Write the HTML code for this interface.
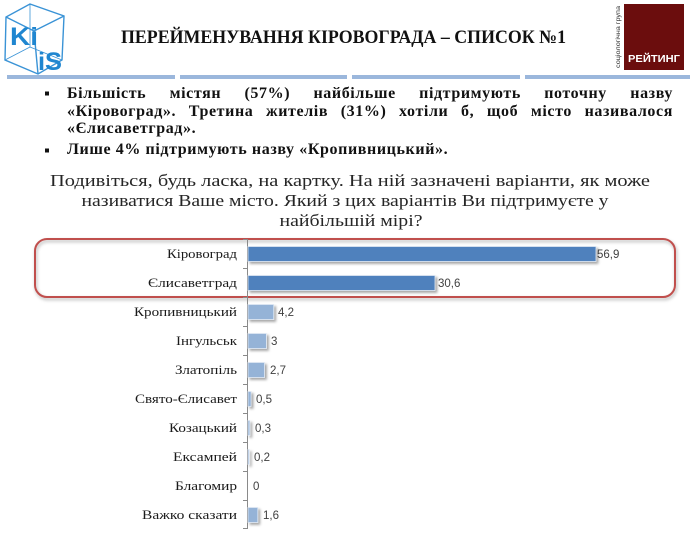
<!DOCTYPE html>
<html><head><meta charset="utf-8">
<style>
html,body{margin:0;padding:0;background:#fff;}
body{position:relative;width:690px;height:533px;overflow:hidden;}
svg{display:block;position:absolute;left:0;top:0;}
.cat{font-family:"Liberation Serif","DejaVu Serif",serif;font-size:13px;fill:#1a1a1a;}
.val{font-family:"Liberation Sans","DejaVu Sans",sans-serif;font-size:11.5px;fill:#404040;}
.q{font-family:"Liberation Serif","DejaVu Serif",serif;font-size:17px;fill:#262626;}
.bl{position:absolute;left:67px;width:606px;height:18px;line-height:18px;font-family:"Liberation Serif","DejaVu Serif",serif;font-size:16px;letter-spacing:0.6px;font-weight:bold;color:#111;white-space:nowrap;}
.j{text-align:justify;text-align-last:justify;white-space:normal;}
</style></head>
<body>
<svg width="690" height="533" viewBox="0 0 690 533" xmlns="http://www.w3.org/2000/svg">
<defs>
<filter id="sh" x="-20%" y="-40%" width="140%" height="180%">
<feDropShadow dx="2" dy="2" stdDeviation="1.2" flood-color="#000" flood-opacity="0.35"/>
</filter>
<filter id="sh2" x="-5%" y="-20%" width="110%" height="140%">
<feDropShadow dx="1" dy="2" stdDeviation="1.5" flood-color="#000" flood-opacity="0.3"/>
</filter>
</defs>
<rect width="690" height="533" fill="#fff"/>

<!-- KIIS logo -->
<g fill="none" stroke="#3a93d6" stroke-width="1.4">
<polygon points="30,4 64,16 62,60 38,74 5,60 6,17"/>
<line x1="34" y1="31" x2="6" y2="17"/>
<line x1="34" y1="31" x2="64" y2="16"/>
<line x1="34" y1="31" x2="38" y2="74"/>
<line x1="30" y1="4" x2="30" y2="47" stroke-width="0.8"/>
<line x1="30" y1="47" x2="5" y2="60" stroke-width="0.8"/>
<line x1="30" y1="47" x2="62" y2="60" stroke-width="0.8"/>
</g>
<text x="10" y="45" font-family="Liberation Sans,sans-serif" font-weight="bold" font-size="25" fill="#1f86d0" textLength="28" lengthAdjust="spacingAndGlyphs">Ki</text>
<text x="38" y="70" font-family="Liberation Sans,sans-serif" font-weight="bold" font-size="25" fill="#1f86d0" textLength="24" lengthAdjust="spacingAndGlyphs">iS</text>

<!-- Rating logo -->
<rect x="624" y="4" width="60" height="66" fill="#6b0d0d"/>
<text x="654" y="62" text-anchor="middle" font-family="Liberation Sans,sans-serif" font-weight="bold" font-size="10.5" fill="#fff" textLength="52" lengthAdjust="spacingAndGlyphs">РЕЙТИНГ</text>
<text transform="translate(620,68) rotate(-90)" font-family="Liberation Sans,sans-serif" font-size="6" fill="#333" textLength="62" lengthAdjust="spacingAndGlyphs">соціологічна група</text>

<!-- Title -->
<text x="121" y="43" font-family="Liberation Serif,serif" font-weight="bold" font-size="19" fill="#111" textLength="445" lengthAdjust="spacingAndGlyphs">ПЕРЕЙМЕНУВАННЯ КІРОВОГРАДА – СПИСОК №1</text>

<!-- separator -->
<g fill="#9bb7dc">
<rect x="7" y="75" width="168" height="4"/>
<rect x="180" y="75" width="167" height="4"/>
<rect x="352" y="75" width="168" height="4"/>
<rect x="525" y="75" width="165" height="4"/>
</g>

<!-- bullets -->
<rect x="45" y="91.5" width="4" height="4" fill="#111"/>
<rect x="45" y="148.5" width="4" height="4" fill="#111"/>

<!-- question -->
<g class="q" text-anchor="middle">
<text x="350" y="186" textLength="600" lengthAdjust="spacingAndGlyphs">Подивіться, будь ласка, на картку. На ній зазначені варіанти, як може</text>
<text x="345" y="206" textLength="527" lengthAdjust="spacingAndGlyphs">називатися Ваше місто. Який з цих варіантів Ви підтримуєте у</text>
<text x="351" y="226" textLength="143" lengthAdjust="spacingAndGlyphs">найбільшій мірі?</text>
</g>

<!-- highlight rect -->
<rect x="35" y="239" width="640" height="58" rx="12" ry="12" fill="none" stroke="#c0504d" stroke-width="2" filter="url(#sh2)"/>

<!-- axis -->
<g stroke="#8a8a8a" stroke-width="1">
<line x1="247.5" y1="239" x2="247.5" y2="529"/>
<line x1="243" y1="239.5" x2="247.5" y2="239.5"/>
<line x1="243" y1="268.5" x2="247.5" y2="268.5"/>
<line x1="243" y1="297.5" x2="247.5" y2="297.5"/>
<line x1="243" y1="326.5" x2="247.5" y2="326.5"/>
<line x1="243" y1="355.5" x2="247.5" y2="355.5"/>
<line x1="243" y1="384.5" x2="247.5" y2="384.5"/>
<line x1="243" y1="413.5" x2="247.5" y2="413.5"/>
<line x1="243" y1="442.5" x2="247.5" y2="442.5"/>
<line x1="243" y1="471.5" x2="247.5" y2="471.5"/>
<line x1="243" y1="500.5" x2="247.5" y2="500.5"/>
<line x1="243" y1="528.5" x2="247.5" y2="528.5"/>
</g>

<!-- bars -->
<g filter="url(#sh)" stroke="#dfe8f3" stroke-width="0.8">
<rect x="248" y="246.5" width="348" height="15" fill="#4f81bd"/>
<rect x="248" y="275.5" width="187" height="15" fill="#4f81bd"/>
<rect x="248" y="304.5" width="25.7" height="15" fill="#95b3d7"/>
<rect x="248" y="333.5" width="18.4" height="15" fill="#95b3d7"/>
<rect x="248" y="362.5" width="16.5" height="15" fill="#95b3d7"/>
<rect x="248" y="391.5" width="3.1" height="15" fill="#95b3d7"/>
<rect x="248" y="420.5" width="1.8" height="15" fill="#95b3d7"/>
<rect x="248" y="449.5" width="1.2" height="15" fill="#95b3d7"/>
<rect x="248" y="507.5" width="9.8" height="15" fill="#95b3d7"/>
</g>

<!-- category labels -->
<g class="cat" text-anchor="end">
<text x="237" y="258" textLength="70" lengthAdjust="spacingAndGlyphs">Кіровоград</text>
<text x="237" y="287" textLength="89" lengthAdjust="spacingAndGlyphs">Єлисаветград</text>
<text x="237" y="316" textLength="103" lengthAdjust="spacingAndGlyphs">Кропивницький</text>
<text x="237" y="345" textLength="61" lengthAdjust="spacingAndGlyphs">Інгульськ</text>
<text x="237" y="374" textLength="62" lengthAdjust="spacingAndGlyphs">Златопіль</text>
<text x="237" y="403" textLength="102" lengthAdjust="spacingAndGlyphs">Свято-Єлисавет</text>
<text x="237" y="432" textLength="68" lengthAdjust="spacingAndGlyphs">Козацький</text>
<text x="237" y="461" textLength="64" lengthAdjust="spacingAndGlyphs">Ексампей</text>
<text x="237" y="490" textLength="62" lengthAdjust="spacingAndGlyphs">Благомир</text>
<text x="237" y="519" textLength="95" lengthAdjust="spacingAndGlyphs">Важко сказати</text>
</g>

<!-- value labels -->
<g class="val">
<text x="597" y="258">56,9</text>
<text x="438" y="287">30,6</text>
<text x="278" y="316">4,2</text>
<text x="271" y="345">3</text>
<text x="270" y="374">2,7</text>
<text x="256" y="403">0,5</text>
<text x="255" y="432">0,3</text>
<text x="254" y="461">0,2</text>
<text x="253" y="490">0</text>
<text x="263" y="519">1,6</text>
</g>
</svg>

<div class="bl j" style="top:85px;">Більшість містян (57%) найбільше підтримують поточну назву</div>
<div class="bl j" style="top:103px;">«Кіровоград». Третина жителів (31%) хотіли б, щоб місто називалося</div>
<div class="bl" style="top:120px;">«Єлисаветград».</div>
<div class="bl" style="top:141px;">Лише 4% підтримують назву «Кропивницький».</div>
</body></html>
